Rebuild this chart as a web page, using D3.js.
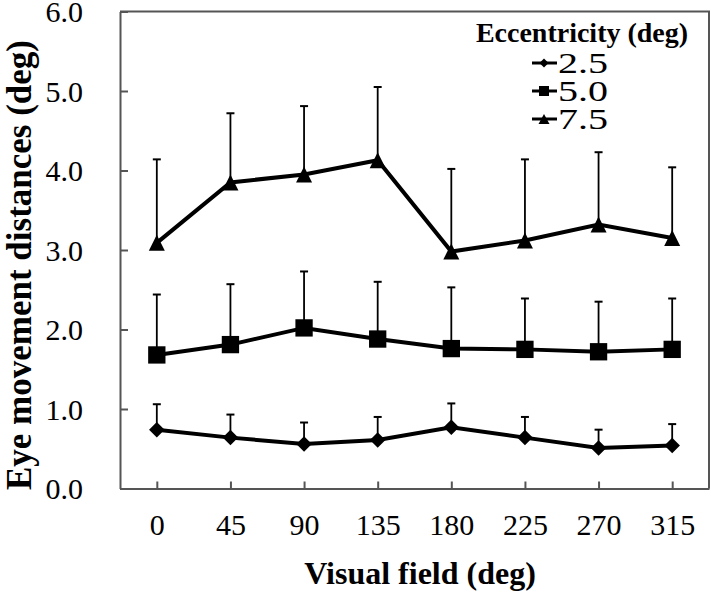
<!DOCTYPE html>
<html>
<head>
<meta charset="utf-8">
<script src="https://cdn.jsdelivr.net/npm/d3@7"></script>
<style>
  html, body { margin: 0; padding: 0; background: #fff; }
  svg { display: block; }
  text { font-family: "Liberation Serif", "Times New Roman", serif; fill: #000; }
</style>
</head>
<body>
<svg id="chart" width="711" height="610"></svg>
<script>
// ---- data ----
const categories = ["0", "45", "90", "135", "180", "225", "270", "315"];
const seriesNames = ["2.5", "5.0", "7.5"];
const means25 = [0.74, 0.64, 0.56, 0.61, 0.77, 0.64, 0.51, 0.54];
const err25   = [0.32, 0.29, 0.27, 0.29, 0.30, 0.26, 0.23, 0.27];
const means50 = [1.68, 1.81, 2.02, 1.88, 1.76, 1.75, 1.72, 1.75];
const err50   = [0.76, 0.76, 0.71, 0.72, 0.77, 0.64, 0.63, 0.64];
const means75 = [3.09, 3.85, 3.95, 4.13, 2.98, 3.12, 3.32, 3.15];
const err75   = [1.05, 0.87, 0.86, 0.92, 1.04, 1.02, 0.91, 0.89];
const yTicks = [0, 1, 2, 3, 4, 5, 6];

const series = [
  { name: seriesNames[0], means: means25, errs: err25, shape: "diamond" },
  { name: seriesNames[1], means: means50, errs: err50, shape: "square" },
  { name: seriesNames[2], means: means75, errs: err75, shape: "triangle" }
];

const svg = d3.select("#chart");
const pLeft = 120, pRight = 709, pTop = 11.5, pBottom = 488.5;

const x = d3.scalePoint().domain(categories).range([pLeft, pRight]).padding(0.5);
const y = d3.scaleLinear().domain([0, 6]).range([pBottom, pTop]);

const axisColor = "#555";

// frame (top and right)
svg.append("path")
  .attr("d", `M${pLeft},${pTop}H${pRight}V${pBottom}`)
  .attr("fill", "none").attr("stroke", axisColor).attr("stroke-width", 2);

// y axis
const yAxis = svg.append("g").attr("transform", `translate(${pLeft},0)`)
  .call(d3.axisRight(y).tickValues(yTicks).tickSize(8).tickFormat(d3.format(".1f")).tickSizeOuter(0));
yAxis.select(".domain").attr("stroke", axisColor).attr("stroke-width", 2);
yAxis.selectAll(".tick line").attr("stroke", axisColor).attr("stroke-width", 2);
yAxis.selectAll(".tick text")
  .attr("x", -37).attr("text-anchor", "end").attr("dy", "0.34em")
  .style("font-size", "30px").style("font-family", "\"Liberation Serif\"");

// x axis
const xAxis = svg.append("g").attr("transform", `translate(0,${pBottom})`)
  .call(d3.axisTop(x).tickSize(7).tickSizeOuter(0));
xAxis.select(".domain").attr("stroke", axisColor).attr("stroke-width", 2);
xAxis.selectAll(".tick line").attr("stroke", axisColor).attr("stroke-width", 2);
xAxis.selectAll(".tick text")
  .attr("y", 46).attr("dy", 0).attr("text-anchor", "middle")
  .style("font-size", "30px").style("font-family", "\"Liberation Serif\"");

// axis titles
svg.append("text")
  .attr("x", 420).attr("y", 584).attr("text-anchor", "middle")
  .style("font-size", "32px").style("font-weight", "bold")
  .text("Visual field (deg)");

svg.append("text")
  .attr("transform", "translate(31,265) rotate(-90)")
  .attr("text-anchor", "middle")
  .style("font-size", "35px").style("font-weight", "bold")
  .text("Eye movement distances (deg)");

// custom triangle (a bit taller than wide, like the original)
function triangleType(w, h) {
  return {
    draw(ctx) {
      ctx.moveTo(0, -h / 2);
      ctx.lineTo(w / 2, h / 2);
      ctx.lineTo(-w / 2, h / 2);
      ctx.closePath();
    }
  };
}
function markerPath(shape, big) {
  if (shape === "triangle") return d3.symbol().type(triangleType(big ? 16 : 11, big ? 16 : 10))();
  if (shape === "square") return d3.symbol().type(d3.symbolSquare).size(big ? 300 : 100)();
  return d3.symbol().type(d3.symbolSquare).size(big ? 120 : 40)();
}

// series
series.forEach(s => {
  const g = svg.append("g");
  // error bars (upward only)
  s.means.forEach((m, i) => {
    const cx = x(categories[i]);
    g.append("line").attr("x1", cx).attr("x2", cx)
      .attr("y1", y(m)).attr("y2", y(m + s.errs[i]))
      .attr("stroke", "#000").attr("stroke-width", 1.8);
    g.append("line").attr("x1", cx - 4).attr("x2", cx + 4)
      .attr("y1", y(m + s.errs[i])).attr("y2", y(m + s.errs[i]))
      .attr("stroke", "#000").attr("stroke-width", 2);
  });
  // line
  g.append("path")
    .datum(s.means)
    .attr("fill", "none").attr("stroke", "#000").attr("stroke-width", 4)
    .attr("d", d3.line().x((d, i) => x(categories[i])).y(d => y(d)));
  // markers
  g.selectAll("path.m").data(s.means).enter().append("path")
    .attr("class", "m")
    .attr("d", markerPath(s.shape, true))
    .attr("transform", (d, i) => `translate(${x(categories[i])},${y(d)})` + (s.shape === "diamond" ? " rotate(45)" : ""))
    .attr("fill", "#000");
});

// legend
const lg = svg.append("g");
lg.append("text").attr("x", 582).attr("y", 42).attr("text-anchor", "middle")
  .style("font-size", "28px").style("font-weight", "bold")
  .text("Eccentricity (deg)");
const rowY = [63, 91, 119];
series.forEach((s, i) => {
  const yy = rowY[i];
  lg.append("line").attr("x1", 532).attr("x2", 557).attr("y1", yy).attr("y2", yy)
    .attr("stroke", "#000").attr("stroke-width", 3);
  lg.append("path")
    .attr("d", markerPath(s.shape, false))
    .attr("transform", `translate(544,${yy})` + (s.shape === "diamond" ? " rotate(45)" : ""))
    .attr("fill", "#000");
  lg.append("text")
    .attr("transform", `translate(558,${yy + 10}) scale(1.38,1)`)
    .style("font-size", "29px")
    .text(s.name);
});
</script>
</body>
</html>
